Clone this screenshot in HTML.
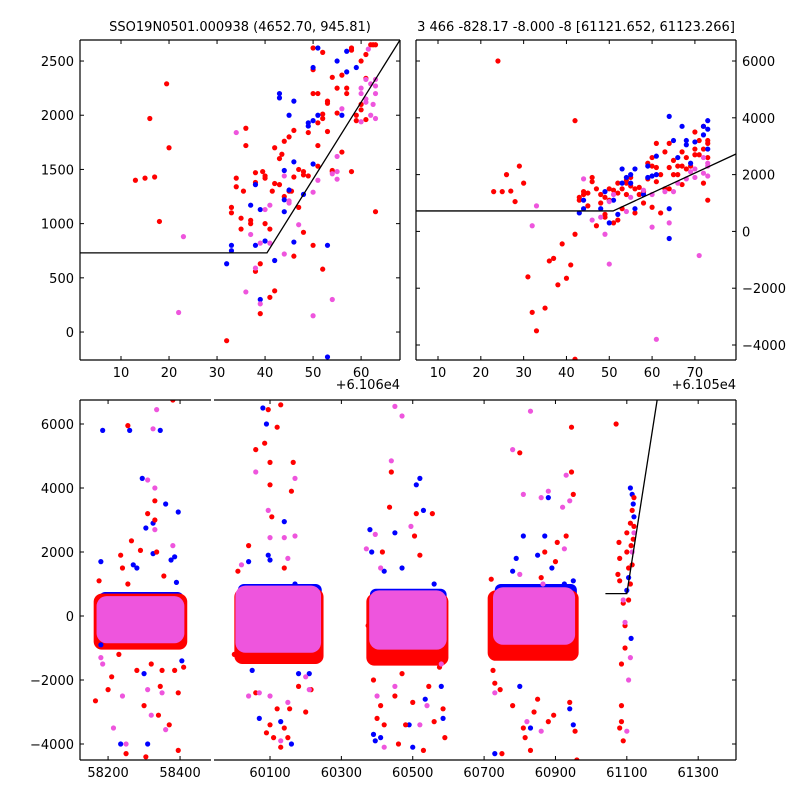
<!DOCTYPE html>
<html><head><meta charset="utf-8">
<style>
html,body{margin:0;padding:0;background:#fff;}
svg{display:block;font-family:"DejaVu Sans","Liberation Sans",sans-serif;}
</style></head>
<body>
<svg id="fig" width="800" height="800" viewBox="0 0 800 800">
<rect x="0" y="0" width="800" height="800" fill="#fff"/>
<text x="240" y="31" font-size="13" text-anchor="middle">SSO19N0501.000938 (4652.70, 945.81)</text>
<text x="576" y="31" font-size="13" text-anchor="middle">3 466 -828.17 -8.000 -8 [61121.652, 61123.266]</text>
<text x="400" y="389" font-size="13" text-anchor="end">+6.106e4</text>
<text x="736" y="389" font-size="13" text-anchor="end">+6.105e4</text>
</svg>
<script>
// ---------- data ----------
const tlRed=[[13,1400],[15,1420],[17,1430],[16,1970],[18,1020],[19.5,2290],[20,1700],[32,-80],[33,1150],[33,1100],[34,1420],[34,1340],[35,1050],[35,950],[35.5,1300],[36,1720],[36,1880],[37,1000],[37,1030],[38,560],[38,1470],[38,1380],[39,170],[39,630],[39.5,1480],[40,1420],[40,1440],[40,1000],[41,950],[41,320],[41.5,1300],[42,1370],[42,380],[42,1700],[43,1600],[43,1360],[43.5,1640],[44,1760],[44,1250],[45,1800],[45,1300],[45.5,1300],[46,1860],[46,1430],[46,700],[47,1500],[47,1150],[48,1450],[48,920],[49,1840],[49,1440],[50,800],[50,2200],[50,2420],[50,2620],[51,1720],[51,1930],[51,2200],[52,1970],[52,2010],[52,2580],[52,580],[53,2130],[53,1850],[53,2110],[54,2350],[54,1490],[55,2020],[55,2250],[56,2370],[56,1660],[57,2200],[57,2250],[58,1480],[58,2600],[58,2620],[59,2000],[59,1950],[60,2500],[60,2050],[60,2100],[61,2340],[61,1960],[62,2650],[62.5,2650],[63,1110],[63,2650],[61,2560],[54,1480],[48,1480],[51,1530]];
const tlBlue=[[32,630],[33,800],[33,750],[37,1170],[38,1360],[39,1130],[38,800],[40,840],[39,300],[42,660],[43,2200],[43,2160],[44,1490],[45,2000],[46,2130],[44,1220],[44,1110],[45,1310],[46,830],[48,1270],[49,1900],[49,1930],[50,1950],[50,1550],[50,2440],[51,2000],[51,2620],[53,800],[53,-230],[55,2500],[57,2590],[57,2400],[59,2440],[56,2000],[46,1570]];
const tlPink=[[22,180],[23,880],[34,1840],[36,370],[37,900],[38,590],[39,820],[39,260],[40,1130],[41,820],[41,1170],[44,1440],[44,720],[45,1210],[45,1190],[47,990],[50,1290],[50,150],[51,1400],[54,300],[54,1460],[55,1620],[55,1480],[55,1410],[56,2060],[60,2250],[60,2200],[61,2330],[61,2150],[62,2000],[62,2290],[63,1970],[63,2330],[63,2270],[61,2120],[60,1940],[61.5,2610],[63,2200],[62.5,2100]];
const tlLine=[[0,730],[40.4,730],[68.1,2694]];
const tlXTicks=[10,20,30,40,50,60];
const tlYTicks=[0,500,1000,1500,2000,2500];

const trRed=[[24,6000],[23,1400],[25,1400],[26,2000],[27,1420],[28,1050],[29,2300],[30,1700],[42,3900],[42,-100],[39,-440],[36,-1040],[37,-950],[41,-1180],[40,-1650],[38,-1880],[31,-1600],[32,-2850],[33,-3500],[35,-2700],[42,-4500],[43,1100],[43,1200],[44,1400],[44,1300],[45,1350],[45,900],[46,1900],[46,1750],[47,1500],[47,200],[48,1300],[48,1000],[49,1200],[49,600],[49,500],[50,1500],[50,1100],[51,1450],[51,300],[52,1700],[52,400],[52,1350],[53,1500],[53,800],[54,1800],[54,1700],[54,1300],[55,1600],[55,1900],[56,1500],[56,650],[57,1300],[57,1550],[58,1000],[58,1400],[59,1850],[59,2400],[60,2300],[60,2600],[60,850],[61,3100],[61,2250],[61,1750],[62,2000],[62,650],[63,1500],[63,2800],[64,3100],[64,2250],[64,1500],[65,2500],[65,2000],[66,2300],[66,2000],[67,1650],[67,2800],[67,2300],[68,2600],[68,2200],[69,2300],[70,3500],[70,2900],[70,2700],[71,2700],[71,3200],[72,3700],[72,2900],[72,1700],[73,3100],[73,2600],[73,1100],[73,3200]];
const trBlue=[[43,650],[44,800],[44,1100],[48,800],[49,1400],[50,300],[51,1100],[52,600],[53,2200],[53,1700],[54,1900],[55,2000],[55,1700],[56,2200],[56,800],[58,1300],[59,1900],[59,2300],[60,1950],[61,2000],[61,2650],[64,4050],[64,-250],[64,800],[65,3200],[66,2600],[67,3700],[68,3200],[68,3050],[69,2400],[70,3150],[72,3400],[72,3700],[73,3600],[73,3900],[73,2900]];
const trPink=[[33,900],[32,200],[44,1850],[46,400],[48,500],[49,-100],[50,1050],[50,-1150],[51,1300],[54,700],[55,1200],[58,1450],[60,1300],[60,150],[61,-3800],[63,1400],[64,300],[65,1400],[66,1700],[68,1850],[69,2100],[70,1900],[70,2200],[71,-850],[72,2600],[72,2050],[73,2400],[73,2300],[73,1950]];
const trLine=[[0,720],[50.9,720],[79.6,2726]];
const trXTicks=[10,20,30,40,50,60,70];
const trYTicks=[-4000,-2000,0,2000,4000,6000];

// bottom: dense cluster bands [x0,x1,yLow,yHigh]
const bandBlue=[[58175,58410,-600,750],[60010,60245,-900,1000],[60380,60595,-900,850],[60730,60960,-800,1000]];
const bandRed=[[58160,58420,-1050,700],[60000,60250,-1500,850],[60370,60600,-1550,700],[60710,60965,-1400,800]];
const bandPink=[[58168,58412,-850,620],[60003,60243,-1150,950],[60378,60595,-1050,800],[60725,60955,-900,900]];
const botRed=[[58165,-2650],[58175,1100],[58200,-2300],[58210,-1900],[58235,1900],[58240,1500],[58250,-4300],[58255,5950],[58265,2350],[58280,-1700],[58290,2050],[58300,-2800],[58305,-4400],[58310,3200],[58320,-1500],[58330,3000],[58330,3600],[58335,2000],[58340,-3100],[58345,-2200],[58355,1250],[58370,-3400],[58385,-1700],[58395,-2400],[58395,-4200],[58410,-1600],[58255,1000],[58230,-1200],[58350,-1700],[58380,6750],
[60000,-1200],[60010,1400],[60040,2200],[60060,5200],[60085,5400],[60090,-3650],[60095,6450],[60100,4800],[60100,4100],[60105,3100],[60120,5900],[60130,6600],[60140,1500],[60160,3900],[60165,4800],[60100,-3400],[60110,-3800],[60130,-4100],[60140,-3500],[60155,-2900],[60180,-2200],[60200,-3000],[60215,-2300],[60060,-2400],[60070,-1400],[60120,-2900],[60150,-3800],
[60375,-300],[60390,-2000],[60400,-3200],[60410,-2800],[60420,-3400],[60440,4500],[60435,3400],[60450,-2500],[60470,-1800],[60480,-3400],[60500,-2700],[60505,2500],[60510,3200],[60520,1900],[60530,-4200],[60545,-2200],[60555,3200],[60560,-3300],[60575,-1600],[60585,-2900],[60590,-3800],[60415,2000],[60460,-4000],
[60720,1150],[60720,-900],[60725,-1700],[60730,-2100],[60745,-2300],[60750,-4300],[60780,-2800],[60800,5100],[60810,-3500],[60815,-3800],[60830,-4200],[60840,-3000],[60850,-2600],[60870,2000],[60880,-3300],[60895,-3100],[60900,1700],[60905,2300],[60930,2500],[60945,4500],[60945,5900],[60950,3800],[60955,-3600],[60960,-4500],[60940,-2700],[60860,1200],
[61070,6000],[61075,1300],[61080,1100],[61085,-1500],[61085,-2800],[61085,-3300],[61090,-3900],[61095,-1000],[61100,2000],[61100,2600],[61110,2900],[61115,3300],[61120,2800],[61115,1600],[61110,1000],[61105,500],[61080,1800],[61078,2300],[61090,400],[61095,-300],[61120,3700],[61080,-3500],[61112,2200],[61118,2400],[61105,1500]];
const botBlue=[[58180,1700],[58180,-900],[58185,5800],[58260,5800],[58270,1600],[58280,1500],[58295,4300],[58305,2750],[58325,1950],[58325,2900],[58345,5800],[58360,3500],[58375,1750],[58385,1850],[58390,1050],[58395,3250],[58405,-1400],[58235,-4000],[58310,-4000],[58300,-1800],
[60040,1700],[60070,-3200],[60080,6500],[60090,6000],[60100,1750],[60095,1900],[60140,2950],[60130,-3300],[60160,-4000],[60170,1000],[60210,-1800],[60050,-1700],[60180,-1800],
[60380,2700],[60385,2000],[60390,-3700],[60395,-3900],[60410,-3800],[60420,1400],[60450,2600],[60470,1500],[60490,-3400],[60510,4100],[60520,4300],[60530,3300],[60535,-2600],[60560,1000],[60580,-2200],[60585,-3200],[60500,-4100],
[60730,-4300],[60780,1400],[60790,1800],[60800,-2200],[60810,2500],[60830,-3500],[60850,1900],[60870,2500],[60880,3700],[60890,1500],[60925,1000],[60940,-2900],[60950,-3400],[60950,1100],
[61110,4000],[61115,3800],[61118,3500],[61120,3100],[61105,1200],[61100,800],[61112,-700]];
const botPink=[[58180,-1300],[58185,-1500],[58215,-3500],[58240,-2500],[58250,-4000],[58310,4250],[58310,-2300],[58320,-3100],[58325,5850],[58330,2700],[58330,4000],[58335,6450],[58360,-3550],[58380,2200],[58350,-2400],
[60020,1600],[60060,4500],[60095,3300],[60100,2450],[60140,2450],[60170,4300],[60170,2500],[60150,1800],[60040,-2500],[60070,-2400],[60100,-2500],[60150,-2700],[60210,-2300],[60130,-3900],[60200,-1900],
[60370,2100],[60395,2550],[60410,1500],[60440,4850],[60450,6550],[60470,6250],[60495,2800],[60400,-2500],[60420,-4100],[60450,-2200],[60520,-3400],[60580,-1500],[60540,-2800],
[60730,-2400],[60780,5200],[60800,1300],[60810,3800],[60830,6400],[60860,3700],[60865,1000],[60880,3900],[60920,3400],[60925,2100],[60930,4400],[60940,3600],[60820,-3300],[60860,-3600],
[61110,-1300],[61095,-200],[61090,500],[61100,-3600],[61120,2600],[61115,2000],[61105,-2000]];
const botLine=[[61040,700],[61100,700],[61185,6750]];
const botLeftXTicks=[58200,58400];
const botRightXTicks=[60100,60300,60500,60700,60900,61100,61300];
const botYTicks=[-4000,-2000,0,2000,4000,6000];

// ---------- drawing ----------
const NS='http://www.w3.org/2000/svg';
const svg=document.getElementById('fig');
function mk(tag,attrs,parent){const e=document.createElementNS(NS,tag);for(const k in attrs)e.setAttribute(k,attrs[k]);(parent||svg).appendChild(e);return e;}
function scale(d0,d1,p0,p1){return v=>p0+(v-d0)*(p1-p0)/(d1-d0);}
const COL={r:'#ff0000',b:'#0000ff',p:'#ee55dd'};

function panel(name,px0,py0,px1,py1,xd0,xd1,yd0,yd1){
  const g=mk('g',{});
  
  
  const cid='clip-'+name;
  const cp=mk('clipPath',{id:cid},g);mk('rect',{x:px0,y:py0,width:px1-px0,height:py1-py0},cp);
  const plot=mk('g',{'clip-path':'url(#'+cid+')'},g);
  return {g,plot,x:scale(xd0,xd1,px0,px1),y:scale(yd0,yd1,py1,py0),px0,py0,px1,py1};
}
function dots(P,arr,color,label){
  const g=mk('g',{fill:color},P.plot);
  
  
  arr.forEach(d=>{
    const c=mk('circle',{cx:P.x(d[0]),cy:P.y(d[1]),r:2.6},g);
    
    
  });
}
function line(P,arr,label){
  const l=mk('polyline',{points:arr.map(d=>P.x(d[0])+','+P.y(d[1])).join(' '),fill:'none',stroke:'#000','stroke-width':1.3},P.plot);
  
  
}
function bands(P,arr,color,label,rx){
  arr.forEach(b=>{
    const r=mk('rect',{x:P.x(b[0]),y:P.y(b[3]),width:P.x(b[1])-P.x(b[0]),height:P.y(b[2])-P.y(b[3]),rx:rx,fill:color},P.plot);
    
    
  });
}
function frame(P,sides){
  const s={stroke:'#000','stroke-width':1.2};
  if(sides.includes('t'))mk('line',Object.assign({x1:P.px0,y1:P.py0,x2:P.px1,y2:P.py0},s),P.g);
  if(sides.includes('b'))mk('line',Object.assign({x1:P.px0,y1:P.py1,x2:P.px1,y2:P.py1},s),P.g);
  if(sides.includes('l'))mk('line',Object.assign({x1:P.px0,y1:P.py0,x2:P.px0,y2:P.py1},s),P.g);
  if(sides.includes('r'))mk('line',Object.assign({x1:P.px1,y1:P.py0,x2:P.px1,y2:P.py1},s),P.g);
}
function xticks(P,ticks,label){
  ticks.forEach(t=>{
    const x=P.x(t);
    mk('line',{x1:x,y1:P.py1,x2:x,y2:P.py1-4,stroke:'#000'},P.g);
    mk('line',{x1:x,y1:P.py0,x2:x,y2:P.py0+4,stroke:'#000'},P.g);
    const tx=mk('text',{x:x,y:P.py1+17,'font-size':13,'text-anchor':'middle'},P.g);
    tx.textContent=String(t);
    
    
  });
}
function yticks(P,ticks,side,label,both){
  ticks.forEach(t=>{
    const y=P.y(t);
    if(side==='l'||both)mk('line',{x1:P.px0,y1:y,x2:P.px0+4,y2:y,stroke:'#000'},P.g);
    if(side==='r'||both)mk('line',{x1:P.px1,y1:y,x2:P.px1-4,y2:y,stroke:'#000'},P.g);
    if(!label)return;
    const s=String(t).replace('-','\u2212');
    const tx=mk('text',{x:side==='l'?P.px0-6:P.px1+6,y:y+5,'font-size':13,'text-anchor':side==='l'?'end':'start'},P.g);
    tx.textContent=s;
    
    
  });
}

// top-left
const TL=panel('top-left-panel',80,40,400,360,1.46,68.1,-258,2694);
dots(TL,tlRed,COL.r,'tl-red-series');dots(TL,tlBlue,COL.b,'tl-blue-series');dots(TL,tlPink,COL.p,'tl-pink-series');
line(TL,tlLine,'tl-fit-line');
frame(TL,'tblr');xticks(TL,tlXTicks,'tl-x-tick-label');yticks(TL,tlYTicks,'l','tl-y-tick-label',true);

// top-right
const TR=panel('top-right-panel',416,40,736,360,4.86,79.6,-4528,6740);
dots(TR,trRed,COL.r,'tr-red-series');dots(TR,trBlue,COL.b,'tr-blue-series');dots(TR,trPink,COL.p,'tr-pink-series');
line(TR,trLine,'tr-fit-line');
frame(TR,'tblr');xticks(TR,trXTicks,'tr-x-tick-label');yticks(TR,trYTicks,'r','tr-y-tick-label',true);

// bottom (broken axis)
const BL=panel('bottom-left-panel',80,400,211,760,58122,58486,-4500,6750);
const BR=panel('bottom-right-panel',214,400,736,760,59943,61406,-4500,6750);
[BL,BR].forEach((P,i)=>{
  const pre=i===0?'bl':'br';
  bands(P,bandBlue,COL.b,pre+'-blue-band',6);
  bands(P,bandRed,COL.r,pre+'-red-band',8);
  dots(P,botBlue,COL.b,pre+'-blue-series');
  dots(P,botRed,COL.r,pre+'-red-series');
  bands(P,bandPink,COL.p,pre+'-pink-band',10);
  dots(P,botPink,COL.p,pre+'-pink-series');
  line(P,botLine,pre+'-fit-line');
});
frame(BL,'tbl');frame(BR,'tbr');
xticks(BL,botLeftXTicks,'bl-x-tick-label');xticks(BR,botRightXTicks,'br-x-tick-label');
yticks(BL,botYTicks,'l','bottom-y-tick-label',false);
yticks(BR,botYTicks,'r',null,false);
</script>
</body></html>
